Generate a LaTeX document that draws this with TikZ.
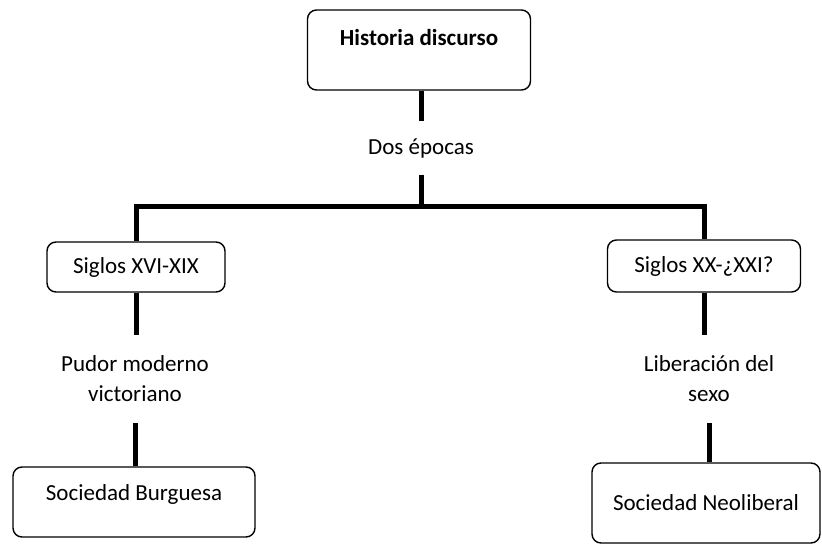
\documentclass[tikz,border=0pt]{standalone}
\usepackage{fontspec}
\setmainfont{Carlito}
\usepackage{tikz}
\usetikzlibrary{positioning,calc}

\begin{document}
\begin{tikzpicture}[x=1pt,y=-1pt,
    box/.style={draw,rounded corners=9pt,line width=1.4pt,align=center,inner sep=0pt},
    lbl/.style={align=center,inner sep=0pt},
    conn/.style={line width=5pt,line join=miter}]
            \useasboundingbox (0,0) rectangle (822,548);
            \fontsize{23}{30}\selectfont

            % Boxes
            \node[box,minimum width=223,minimum height=80,text height=16pt,text depth=25pt,font=\bfseries] (top) at (419,50) {Historia discurso};
            \node[box,minimum width=178,minimum height=50] (sl) at (136,267) {Siglos XVI-XIX};
            \node[box,minimum width=193,minimum height=52] (sr) at (704,266) {Siglos XX-¿XXI?};
            \node[box,minimum width=242,minimum height=70,text height=16pt,text depth=19pt] (sb) at (134,502) {Sociedad Burguesa};
            \node[box,minimum width=228,minimum height=80] (sn) at (706,503) {Sociedad Neoliberal};

            % Labels
            \node[lbl,minimum height=53] (dos) at (421,148) {Dos épocas};
            \node[lbl,minimum height=88] (pudor) at (135,379) {Pudor moderno\\victoriano};
            \node[lbl,minimum height=88] (lib) at (709,379) {Liberación del\\sexo};
            \coordinate (bar) at (0,207);

            % Connectors
            \draw[conn] (dos.north |- top.south) -- (dos.north);
            \draw[conn] (dos.south) -- (dos.south |- bar);
            \draw[conn] (sl.north) -- (sl.north |- bar) -- (sr.north |- bar) -- (sr.north);
            \draw[conn] (sl.south) -- (sl.south |- pudor.north);
            \draw[conn] (sr.south) -- (sr.south |- lib.north);
            \draw[conn] (pudor.south) -- (pudor.south |- sb.north);
            \draw[conn] (lib.south) -- (lib.south |- sn.north);
\end{tikzpicture}
\end{document}
